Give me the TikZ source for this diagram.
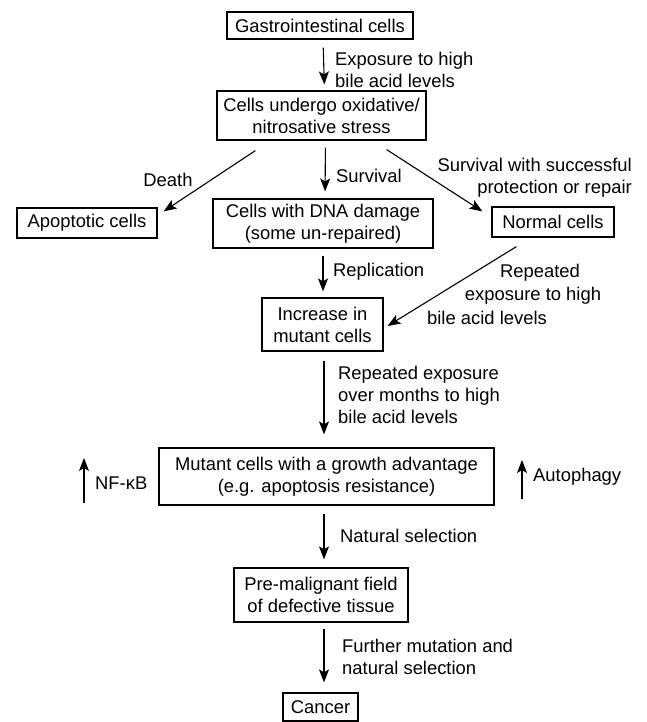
\documentclass[tikz,border=0pt]{standalone}
\usepackage{fontspec}
\setmainfont{Liberation Sans}
\usetikzlibrary{arrows.meta}
\begin{document}
\begin{tikzpicture}[x=1pt,y=-1pt,
  font=\fontsize{18.4}{22}\selectfont,
  box/.style={draw, line width=1.2pt, inner sep=0pt, align=center},
  arr/.style={line width=1.1pt, -{Stealth[length=13pt,width=10pt,inset=3pt]}},
  lbl/.style={inner sep=0pt, align=left, anchor=west},
  lblr/.style={inner sep=0pt, align=right, anchor=east},
  lblc/.style={inner sep=0pt, align=center}]
\useasboundingbox (0,0) rectangle (646,722);
% boxes
\node[box, minimum width=186pt, minimum height=27pt] (gi) at (320,25.5) {Gastrointestinal cells};
\node[box, minimum width=209pt, minimum height=49pt] (stress) at (321.5,115.5) {Cells undergo oxidative/\\nitrosative stress};
\node[box, minimum width=140pt, minimum height=30pt] (apop) at (87,223) {Apoptotic cells};
\node[box, minimum width=220pt, minimum height=49pt] (dna) at (323,223.5) {Cells with DNA damage\\(some un-repaired)};
\node[box, minimum width=122pt, minimum height=30pt] (normal) at (553,222) {Normal cells};
\node[box, minimum width=121pt, minimum height=53pt] (incr) at (322.5,324.5) {Increase in\\mutant cells};
\node[box, minimum width=335pt, minimum height=57pt] (mutant) at (326.5,476.5) {Mutant cells with a growth advantage\\(e.g. apoptosis resistance)};
\node[box, minimum width=174pt, minimum height=54pt] (premal) at (321,595) {Pre-malignant field\\of defective tissue};
\node[box, minimum width=75pt, minimum height=28pt] (cancer) at (320.5,707) {Cancer};
% free arrows
\coordinate (nfa) at (84,503);
\coordinate (nfb) at (84,458);
\coordinate (aua) at (522,499);
\coordinate (aub) at (522,460);
% connectors
\draw[arr, shorten <=8pt, shorten >=6pt] ([shift={(3,0)}]gi.south) -- ([shift={(3,0)}]stress.north);
\draw[arr, shorten <=7pt, shorten >=7pt] ([shift={(4,0)}]stress.south) -- ([shift={(2,0)}]dna.north);
\draw[arr] ([shift={(39,10)}]stress.south west) -- ([shift={(6,4)}]apop.north east);
\draw[arr] ([shift={(-40,9)}]stress.south east) -- ([shift={(-9,5)}]normal.north west);
\draw[arr, shorten <=7pt, shorten >=6pt] (dna.south) -- ([shift={(0.5,0)}]incr.north);
\draw[arr] ([shift={(25,9)}]normal.south west) -- ([shift={(4,1.5)}]incr.east);
\draw[arr, shorten <=9pt, shorten >=13pt] ([shift={(1.5,0)}]incr.south) -- ([shift={(-2.5,0)}]mutant.north);
\draw[arr, shorten <=8pt, shorten >=8pt] ([shift={(-2.5,0)}]mutant.south) -- ([shift={(3,0)}]premal.north);
\draw[arr, shorten <=6pt, shorten >=10pt] ([shift={(3,0)}]premal.south) -- ([shift={(3.5,0)}]cancer.north);
\draw[arr] (nfa) -- (nfb);
\draw[arr] (aua) -- (aub);
% labels
\node[lbl] (l1) at (335,70) {Exposure to high\\bile acid levels};
\node[lblc] (l2) at (168,180) {Death};
\node[lbl] (l3) at (336,176) {Survival};
\node[lblr] (l4) at (632,178) {Survival with successful\\protection or repair};
\node[lbl] (l5) at (333,272) {Replication};
\node[lblc] (l6a) at (540,273) {Repeated};
\node[lblc] (l6b) at (533,296) {exposure to high};
\node[lblc] (l6c) at (487,318) {bile acid levels};
\node[lbl] (l7) at (338,395) {Repeated exposure\\over months to high\\bile acid levels};
\node[lbl] (l8) at (95,483) {NF-κB};
\node[lbl] (l9) at (533,477) {Autophagy};
\node[lbl] (l10) at (340,536) {Natural selection};
\node[lbl] (l11) at (342,657) {Further mutation and\\natural selection};
\end{tikzpicture}
\end{document}
